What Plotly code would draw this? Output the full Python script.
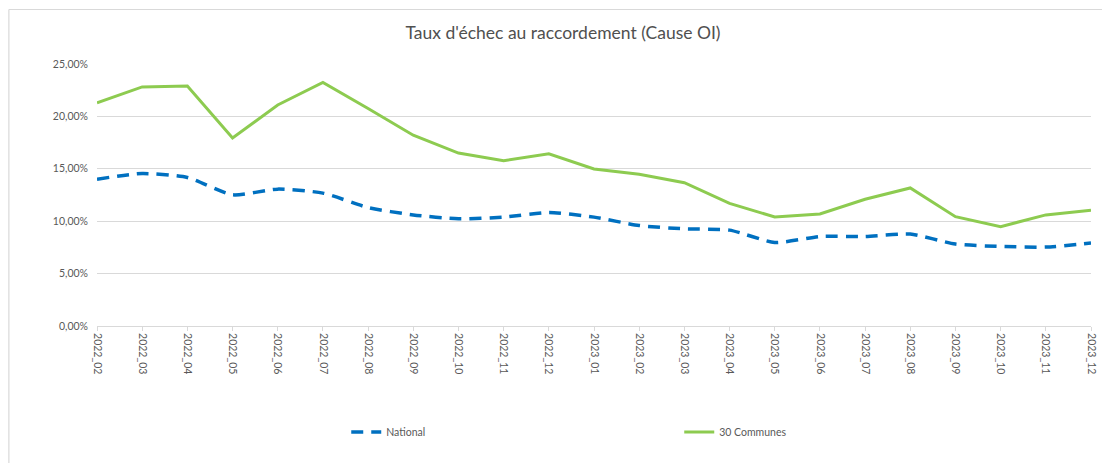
import plotly.graph_objects as go

months = ["2022_02", "2022_03", "2022_04", "2022_05", "2022_06", "2022_07", "2022_08",
          "2022_09", "2022_10", "2022_11", "2022_12", "2023_01", "2023_02", "2023_03",
          "2023_04", "2023_05", "2023_06", "2023_07", "2023_08", "2023_09", "2023_10",
          "2023_11", "2023_12"]

national = [0.1401, 0.1455, 0.1417, 0.1252, 0.1306, 0.1268, 0.1130, 0.1060, 0.1023,
            0.1039, 0.1083, 0.1039, 0.0959, 0.0927, 0.0915, 0.0797, 0.0854, 0.0854,
            0.0877, 0.0782, 0.0759, 0.0753, 0.0791]

communes = [0.2130, 0.2281, 0.2290, 0.1794, 0.2109, 0.2325, 0.2075, 0.1820, 0.1650,
            0.1577, 0.1643, 0.1498, 0.1447, 0.1367, 0.1170, 0.1040, 0.1069, 0.1209,
            0.1317, 0.1043, 0.0948, 0.1060, 0.1104]

title_text = "Taux d'échec au raccordement (Cause OI)"
ytickvals = [0, 0.05, 0.10, 0.15, 0.20, 0.25]

# page offset (default body margin of the html page)
OFF = 8
W, H = 1110 - OFF, 463 - OFF
# plot area in page pixels: x 97..1094, y 64..326
L = 97 - OFF
T = 64 - OFF
R = W - (1094 - OFF)
B = H - (326 - OFF)
pw, ph = W - L - R, H - T - B


def px_x(px):
    return (px - OFF - L) / pw


def px_y(py):
    return (H - B - (py - OFF)) / ph


grey = "#595959"

fig = go.Figure()
fig.add_trace(go.Scatter(
    x=months, y=national, name="National", mode="lines",
    line=dict(color="#0070C0", width=3.5, dash="12px,8px", shape="spline", smoothing=0.6),
    cliponaxis=False, legend="legend"))
fig.add_trace(go.Scatter(
    x=months, y=communes, name="30 Communes", mode="lines",
    line=dict(color="#8DCB50", width=3),
    cliponaxis=False, legend="legend2"))

fig.update_layout(
    width=W, height=H,
    margin=dict(l=L, r=R, t=T, b=B),
    paper_bgcolor="white", plot_bgcolor="white",
    separators=", ",
    font=dict(family="Lato, Open Sans, sans-serif", color=grey, size=10.5),
    title=dict(text=title_text, x=(563 - OFF) / W, xanchor="center", xref="container",
               y=1 - (33 - OFF) / H, yanchor="middle", yref="container",
               font=dict(family="Lato, Open Sans, sans-serif", size=17.5, color="#505050")),
    xaxis=dict(type="category", range=[0, len(months) - 1], tickangle=90,
               showgrid=False, showline=True, linecolor="#d9d9d9", linewidth=1,
               ticks="outside", ticklen=4, tickcolor="#d9d9d9", tickwidth=1,
               tickfont=dict(size=10.5, color=grey), zeroline=False, fixedrange=True),
    yaxis=dict(range=[0, 0.25], tickvals=ytickvals, tickformat=".2%",
               showgrid=True, gridcolor="#d9d9d9", gridwidth=1, zeroline=False,
               showline=False, ticks="", ticklabelstandoff=8,
               tickfont=dict(size=10.5, color=grey), fixedrange=True),
    legend=dict(orientation="h", x=px_x(347), xanchor="left", y=px_y(432), yanchor="middle",
                font=dict(size=10.5, color=grey), bgcolor="rgba(0,0,0,0)"),
    legend2=dict(orientation="h", x=px_x(681), xanchor="left", y=px_y(432), yanchor="middle",
                 font=dict(size=10.5, color=grey), bgcolor="rgba(0,0,0,0)"),
    showlegend=True,
    shapes=[
        dict(type="line", xref="paper", yref="paper", x0=px_x(8.6), x1=px_x(1120),
             y0=px_y(9.5), y1=px_y(9.5), line=dict(color="#d9d9d9", width=1.2)),
        dict(type="line", xref="paper", yref="paper", x0=px_x(8.6), x1=px_x(8.6),
             y0=px_y(9.5), y1=px_y(470), line=dict(color="#d9d9d9", width=1.2)),
    ],
)

fig.write_html("out.html")
